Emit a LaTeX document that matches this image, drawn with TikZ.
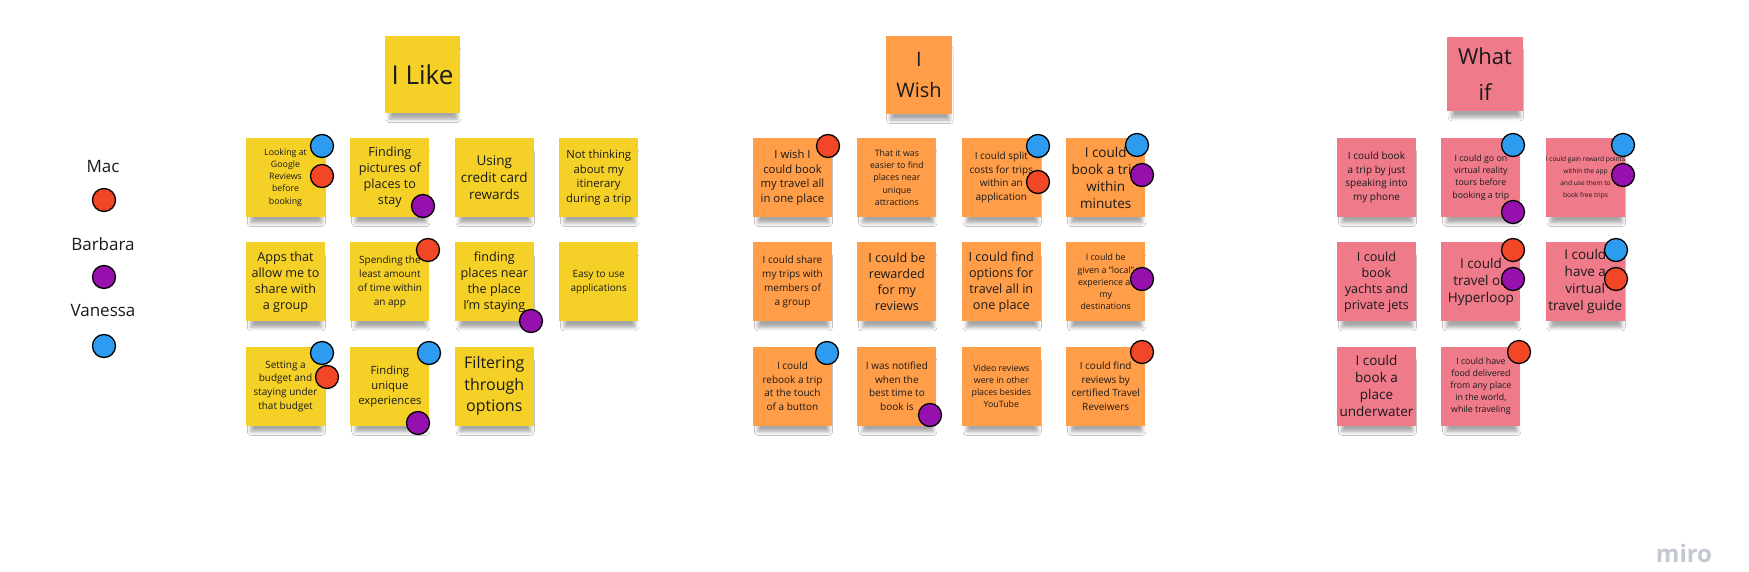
\documentclass[tikz,border=0pt]{standalone}
\usepackage{fontspec}
\setmainfont{Open Sans}
\usetikzlibrary{positioning,shadows.blur}

\definecolor{likefill}{HTML}{F5D128}
\definecolor{wishfill}{HTML}{FF9D48}
\definecolor{whatfill}{HTML}{EE7A8A}
\definecolor{mac}{HTML}{F24726}
\definecolor{barbara}{HTML}{9510AC}
\definecolor{vanessa}{HTML}{2D9BF0}
\definecolor{ink}{HTML}{1A1A1A}
\definecolor{logo}{HTML}{C3C8D1}

\begin{document}
\begin{tikzpicture}[x=1pt, y=-1pt
        , node distance = 25pt
        , note/.style={ rectangle, minimum width=79pt, minimum height=79pt,
            inner sep=0pt, align=center, text=ink,
            blur shadow={shadow xshift=1pt, shadow yshift=-11pt,
                shadow scale=.9, shadow blur radius=4pt, shadow opacity=35} }
        , like/.style={ note, fill=likefill }
        , wish/.style={ note, fill=wishfill }
        , whatif/.style={ note, fill=whatfill }
        , dot/.style={ circle, draw=black, line width=1.3pt, minimum size=23pt, inner sep=0pt }
        , legend/.style={ text=ink, font=\fontsize{17}{20}\selectfont }
        , txtS/.style={ font=\fontsize{6.6}{12}\selectfont }
        , txtA/.style={ font=\fontsize{8.8}{12.2}\selectfont }
        , txtB/.style={ font=\fontsize{10}{13.7}\selectfont }
        , txtC/.style={ font=\fontsize{11.3}{14.8}\selectfont }
        , txtD/.style={ font=\fontsize{12.6}{16}\selectfont }
        , txtE/.style={ font=\fontsize{13.5}{17}\selectfont }
        , txtF/.style={ font=\fontsize{16}{21.5}\selectfont }
        ]

        \useasboundingbox (0,0) rectangle (1749,571);
        \fill[white] (0,0) rectangle (1749,571);

        % who voted
        \node[legend] (mac) at (103,167) {Mac};
        \node[legend] (barbara) at (103,244) {Barbara};
        \node[legend] (vanessa) at (103,311) {Vanessa};
        \node[dot, fill=mac] (macdot) at (104,200) {};
        \node[dot, fill=barbara] (barbaradot) at (104,277) {};
        \node[dot, fill=vanessa] (vanessadot) at (104,346) {};

        % column heads
        \node[like, minimum width=75pt, minimum height=77pt,
            font=\fontsize{26}{32}\selectfont] (likehead) at (422.5,74.5) {I Like};
        \node[wish, minimum width=66pt, minimum height=78pt,
            font=\fontsize{20}{31}\selectfont] (wishhead) at (919,75) {I\\Wish};
        \node[whatif, minimum width=76pt, minimum height=74pt,
            font=\fontsize{22}{36}\selectfont] (whathead) at (1485,74) {What\\if};

        % I Like
        \node[like, txtA] (like11) at (285.5,177.5) {Looking at\\Google\\Reviews\\before\\booking};
        \node[like, txtD, right=of like11] (like12) {Finding\\pictures of\\places to\\stay};
        \node[like, txtE, right=of like12] (like13) {Using\\credit card\\rewards};
        \node[like, txtC, right=of like13] (like14) {Not thinking\\about my\\itinerary\\during a trip};
        \node[like, txtD, below=of like11] (like21) {Apps that\\allow me to\\share with\\a group};
        \node[like, txtB, right=of like21] (like22) {Spending the\\least amount\\of time within\\an app};
        \node[like, txtD, right=of like22] (like23) {finding\\places near\\the place\\I'm staying};
        \node[like, txtB, right=of like23] (like24) {Easy to use\\applications};
        \node[like, txtB, below=of like21] (like31) {Setting a\\budget and\\staying under\\that budget};
        \node[like, txtC, right=of like31] (like32) {Finding\\unique\\experiences};
        \node[like, txtF, right=of like32] (like33) {Filtering\\through\\options};

        % I Wish
        \node[wish, txtC] (wish11) at (792.5,177.5) {I wish I\\could book\\my travel all\\in one place};
        \node[wish, txtA, right=of wish11] (wish12) {That it was\\easier to find\\places near\\unique\\attractions};
        \node[wish, txtB, right=of wish12] (wish13) {I could split\\costs for trips\\within an\\application};
        \node[wish, txtE, right=of wish13] (wish14) {I could\\book a trip\\within\\minutes};
        \node[wish, txtB, below=of wish11] (wish21) {I could share\\my trips with\\members of\\a group};
        \node[wish, txtD, right=of wish21] (wish22) {I could be\\rewarded\\for my\\reviews};
        \node[wish, txtD, right=of wish22] (wish23) {I could find\\options for\\travel all in\\one place};
        \node[wish, txtA, right=of wish23] (wish24) {I could be\\given a "local"\\experience at\\my\\destinations};
        \node[wish, txtB, below=of wish21] (wish31) {I could\\rebook a trip\\at the touch\\of a button};
        \node[wish, txtB, right=of wish31] (wish32) {I was notified\\when the\\best time to\\book is};
        \node[wish, txtA, right=of wish32] (wish33) {Video reviews\\were in other\\places besides\\YouTube};
        \node[wish, txtB, right=of wish33] (wish34) {I could find\\reviews by\\certified Travel\\Reveiwers};

        % What if
        \node[whatif, txtB] (what11) at (1376.5,177.5) {I could book\\a trip by just\\speaking into\\my phone};
        \node[whatif, txtA, right=of what11] (what12) {I could go on\\virtual reality\\tours before\\booking a trip};
        \node[whatif, txtS, right=of what12] (what13) {I could gain reward points\\within the app\\and use them to\\book free trips};
        \node[whatif, txtD, below=of what11] (what21) {I could\\book\\yachts and\\private jets};
        \node[whatif, txtE, right=of what21] (what22) {I could\\travel on\\Hyperloop};
        \node[whatif, txtE, right=of what22] (what23) {I could\\have a\\virtual\\travel guide};
        \node[whatif, txtE, below=of what21] (what31) {I could\\book a\\place\\underwater};
        \node[whatif, txtA, right=of what31] (what32) {I could have\\food delivered\\from any place\\in the world,\\while traveling};

        % votes
        \foreach \n/\x/\y/\c in {1/322/146/vanessa, 2/322/176/mac, 3/423/206/barbara,
                4/428/250/mac, 5/531/321/barbara, 6/322/353/vanessa, 7/327/377/mac,
                8/429/353/vanessa, 9/418/423/barbara}
            \node[dot, fill=\c] (dlike\n) at (\x,\y) {};

        \foreach \n/\x/\y/\c in {1/828/146/mac, 2/1038/146/vanessa, 3/1038/182/mac,
                4/1137/145/vanessa, 5/1142/175/barbara, 6/1142/279/barbara,
                7/827/353/vanessa, 8/930/415/barbara, 9/1142/352/mac}
            \node[dot, fill=\c] (dwish\n) at (\x,\y) {};

        \foreach \n/\x/\y/\c in {1/1513/145/vanessa, 2/1513/212/barbara, 3/1623/145/vanessa,
                4/1623/175/barbara, 5/1513/250/mac, 6/1513/279/barbara,
                7/1616/250/vanessa, 8/1616/279/mac, 9/1519/352/mac}
            \node[dot, fill=\c] (dwhat\n) at (\x,\y) {};

        \node[text=logo, font=\fontsize{24}{24}\selectfont\bfseries] (miro) at (1684,553) {miro};

\end{tikzpicture}
\end{document}
